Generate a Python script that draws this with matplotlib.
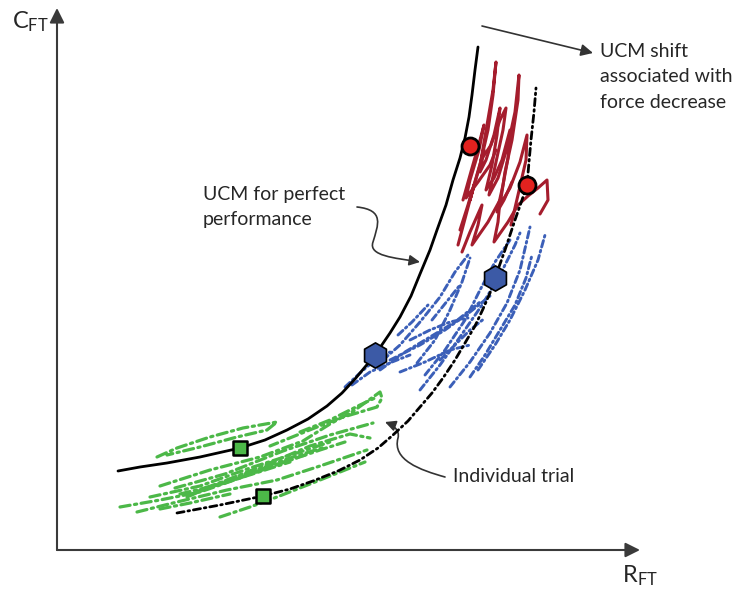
import matplotlib.pyplot as plt
from matplotlib.path import Path
from matplotlib.patches import FancyArrowPatch
import numpy as np

# canvas units: x to the right, y downward (0..739 x 0..590)
ucm_perfect = [(118, 471), (140, 467), (167, 463), (200, 457), (240, 448), (265, 440),
               (287, 430), (308, 419), (327, 406), (342, 393), (355, 379), (375, 355),
               (390, 333), (400, 317), (411, 296), (420, 274), (430, 250), (437, 230),
               (446, 205), (453, 180), (460, 158), (465, 138), (469, 117), (472, 95),
               (475, 70), (478, 47)]
ucm_shifted = [(177, 513), (220, 505), (263, 496), (290, 489), (313, 481), (338, 471),
               (360, 460), (378, 448), (393, 435), (408, 421), (420, 407), (432, 393),
               (443, 378), (455, 360), (465, 343), (475, 326), (483, 309), (490, 293),
               (495, 278), (505, 250), (515, 220), (522, 200), (527, 185), (529, 162),
               (531, 140), (534, 112), (536, 88)]

green_trials = [
    [(157, 457), (177, 448), (210, 437), (243, 428), (277, 422), (267, 430), (237, 437), (200, 447), (167, 455)],
    [(160, 486), (210, 470), (260, 457), (303, 441), (330, 424), (355, 410), (380, 392), (382, 398), (377, 407), (340, 418), (307, 431), (270, 446)],
    [(175, 488), (225, 474), (283, 451), (330, 435), (373, 423)],
    [(187, 497), (227, 480), (277, 460), (310, 446), (350, 434), (370, 438)],
    [(150, 497), (200, 486), (250, 468), (300, 452), (330, 442)],
    [(195, 492), (240, 478), (285, 462), (320, 450), (345, 442)],
    [(205, 488), (250, 472), (290, 458), (325, 447)],
    [(180, 494), (225, 483), (265, 468), (305, 455)],
    [(137, 512), (177, 502), (227, 490), (277, 480), (320, 466), (367, 450)],
    [(120, 507), (160, 500), (200, 492), (240, 478), (290, 462)],
    [(220, 517), (250, 507), (277, 497), (310, 484), (340, 472), (365, 462)],
    [(160, 509), (190, 503), (230, 494)],
    [(300, 432), (330, 420), (360, 405), (375, 398)],
]

blue_trials = [
    [(345, 387), (360, 373), (375, 360), (390, 352)],
    [(352, 385), (370, 372), (392, 362), (410, 355)],
    [(383, 360), (400, 345), (420, 322), (440, 297), (455, 272), (468, 255)],
    [(390, 360), (420, 345), (445, 330), (470, 312), (490, 296)],
    [(380, 370), (405, 352), (430, 337), (455, 322), (480, 302)],
    [(417, 363), (435, 340), (450, 310), (462, 282), (470, 258)],
    [(425, 375), (445, 350), (465, 320), (480, 290), (495, 262), (510, 240)],
    [(420, 390), (440, 365), (460, 337), (482, 305), (500, 275), (515, 245), (520, 233)],
    [(450, 387), (470, 362), (490, 333), (507, 303), (520, 270), (527, 240), (530, 227)],
    [(470, 377), (485, 355), (500, 330), (515, 305), (526, 278), (532, 255)],
    [(478, 370), (495, 345), (510, 320), (525, 290), (538, 260), (545, 235)],
    [(398, 335), (412, 322), (428, 305)],
    [(400, 372), (425, 362), (450, 350), (470, 345)],
    [(432, 320), (448, 300), (460, 285)],
    [(410, 340), (430, 330), (450, 322), (468, 318)],
    [(440, 360), (455, 345), (470, 330), (485, 318)],
]

red_trials = [
    [(458, 245), (466, 215), (474, 185), (470, 200), (480, 165), (488, 130), (493, 95), (496, 62),
     (493, 90), (487, 125), (481, 160), (491, 145), (500, 120), (506, 108), (503, 130), (496, 162),
     (489, 195), (498, 178), (508, 145), (515, 112), (519, 75), (518, 100), (512, 140), (505, 172),
     (500, 205), (510, 188), (520, 162), (527, 135), (526, 160), (518, 195), (511, 225)],
    [(462, 252), (470, 232), (482, 205), (478, 225), (472, 245), (488, 222), (500, 200), (498, 222),
     (494, 242), (508, 222), (518, 205), (528, 196), (538, 188), (547, 180), (548, 200), (540, 214)],
    [(463, 200), (472, 168), (480, 140), (484, 125), (479, 150), (470, 180), (466, 198), (478, 182),
     (490, 165), (496, 150)],
    [(460, 230), (468, 205), (476, 178), (484, 150), (480, 172), (486, 160), (494, 135), (500, 108),
     (497, 135), (492, 165), (486, 190), (494, 178), (502, 160), (510, 130), (508, 158), (503, 185),
     (497, 212), (504, 200), (512, 182)],
]

circle_pts = [(470, 146), (527, 185)]
hexagon_pts = [(375, 355), (495, 278)]
square_pts = [(240, 448), (263, 496)]

txt = '#262626'
fs = 14
plt.rcParams['font.family'] = ['Lato', 'DejaVu Sans']

fig = plt.figure(figsize=(7.39, 5.90), dpi=100)
ax = fig.add_axes([0, 0, 1, 1])
ax.set_xlim(0, 739)
ax.set_ylim(590, 0)
ax.axis('off')

# axes with arrow heads
arrow_kw = dict(arrowstyle='-|>', lw=1.5, color='#3a3a3a', mutation_scale=22, shrinkA=0, shrinkB=0)
ax.annotate('', xy=(57, 8), xytext=(57, 550), arrowprops=arrow_kw)
ax.annotate('', xy=(640, 550), xytext=(57, 550), arrowprops=arrow_kw)
ax.text(12, 22, r'$\mathregular{C_{FT}}$', fontsize=17, color=txt, va='center', ha='left')
ax.text(622, 576, r'$\mathregular{R_{FT}}$', fontsize=17, color=txt, va='center', ha='left')

def draw(pts, **kw):
    arr = np.array(pts)
    ax.plot(arr[:, 0], arr[:, 1], solid_capstyle='round', solid_joinstyle='round',
            dash_capstyle='round', **kw)

for tr in green_trials:
    draw(tr, color='#4cb848', lw=2.3, ls=(0, (3.2, 1.4, 0.7, 1.4)))
for tr in blue_trials:
    draw(tr, color='#3b5fb8', lw=2.1, ls=(0, (2.3, 1.2, 0.6, 1.2)))
for tr in red_trials:
    draw(tr, color='#a51d2d', lw=2.2)

draw(ucm_perfect, color='black', lw=2.0)
draw(ucm_shifted, color='black', lw=2.0, ls=(0, (2.6, 1.4, 0.6, 1.4)))

cx, cy = zip(*circle_pts)
ax.scatter(cx, cy, s=150, marker='o', color='#e3221f', edgecolor='black', linewidth=2, zorder=5)
hx, hy = zip(*hexagon_pts)
ax.scatter(hx, hy, s=330, marker='h', color='#3c5aa6', edgecolor='black', linewidth=1.2, zorder=5)
sx, sy = zip(*square_pts)
ax.scatter(sx, sy, s=110, marker='s', color='#4cb848', edgecolor='black', linewidth=1.8, zorder=5)

# labels and curved pointers
ax.text(203, 207, 'UCM for perfect\nperformance', fontsize=fs, color=txt, va='center',
        ha='left', linespacing=1.55)
p1 = Path([(357, 207), (385, 210), (378, 225), (373, 242), (368, 256), (395, 258), (420, 262)],
          [Path.MOVETO, Path.CURVE4, Path.CURVE4, Path.CURVE4, Path.CURVE4, Path.CURVE4, Path.CURVE4])
ax.add_patch(FancyArrowPatch(path=p1, arrowstyle='-|>', mutation_scale=16, lw=1.2, color='#333333'))

ax.text(453, 477, 'Individual trial', fontsize=fs, color=txt, va='center', ha='left')
p2 = Path([(445, 477), (420, 470), (392, 460), (398, 438), (400, 430), (393, 425), (385, 422)],
          [Path.MOVETO, Path.CURVE4, Path.CURVE4, Path.CURVE4, Path.CURVE4, Path.CURVE4, Path.CURVE4])
ax.add_patch(FancyArrowPatch(path=p2, arrowstyle='-|>', mutation_scale=16, lw=1.2, color='#333333'))

ax.text(600, 77, 'UCM shift\nassociated with\nforce decrease', fontsize=fs, color=txt,
        va='center', ha='left', linespacing=1.6)
ax.annotate('', xy=(593, 53), xytext=(482, 26),
            arrowprops=dict(arrowstyle='-|>', lw=1.2, color='#333333', mutation_scale=18,
                            shrinkA=0, shrinkB=0))

fig.savefig('out.png', dpi=100)
